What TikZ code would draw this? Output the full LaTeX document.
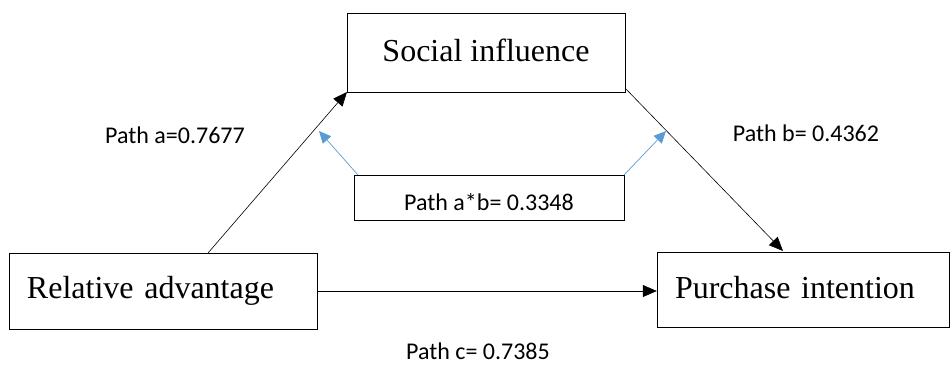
\documentclass[tikz,border=0pt]{standalone}
\usepackage{fontspec}
\setmainfont{Liberation Serif}
\newfontfamily\pathfont{Carlito}
\usetikzlibrary{positioning,arrows.meta}
\tikzset{
  varbox/.style={draw, rectangle, inner sep=0pt, font=\fontsize{32}{36}\selectfont},
  pathlabel/.style={font=\pathfont\fontsize{24}{28}\selectfont, inner sep=0pt},
  effect/.style={-{Triangle[length=14pt,width=12pt]}, line width=0.6pt},
  indirect/.style={-{Triangle[length=12pt,width=11pt]}, draw={rgb,255:red,91;green,155;blue,213}, line width=0.7pt}
}
\begin{document}
\begin{tikzpicture}[x=1pt,y=-1pt]
\useasboundingbox (0,0) rectangle (952,365);

% the three variables
\node[varbox, minimum width=278pt, minimum height=79pt] (social) at (486,52.5) {\raisebox{5pt}{Social influence}};
\node[varbox, minimum width=308pt, minimum height=76pt, text width=272pt, align=left] (relative) at (163,291) {Relative advantage};
\node[varbox, minimum width=292pt, minimum height=75pt, text width=256pt, align=left] (purchase) at (803,289.5) {\raisebox{4pt}{Purchase intention}};

% indirect effect box
\node[draw, rectangle, minimum width=270pt, minimum height=45pt, pathlabel, text depth=0pt] (indirect) at (489,197.5) {\raisebox{-8pt}{Path a*b= 0.3348}};

\coordinate (ra top) at (208,253);
\coordinate (si left) at (347,92);
\coordinate (si right) at (625,88);
\coordinate (pi top) at (783,251);
\coordinate (ab left) at (358,175);
\coordinate (ab right) at (624,175);
\coordinate (tip a) at (319,131);
\coordinate (tip b) at (666,131);

\draw[effect] (ra top) -- (si left);
\draw[effect] (si right) -- (pi top);
\draw[effect] (relative.east) -- (relative.east -| purchase.west);
\draw[indirect] (ab left) -- (tip a);
\draw[indirect] (ab right) -- (tip b);

% coefficients
\node[pathlabel] (path a) at (175,135) {Path a=0.7677};
\node[pathlabel] (path b) at (806,133) {Path b= 0.4362};
\node[pathlabel] (path c) at (478,351) {Path c= 0.7385};
\end{tikzpicture}
\end{document}
